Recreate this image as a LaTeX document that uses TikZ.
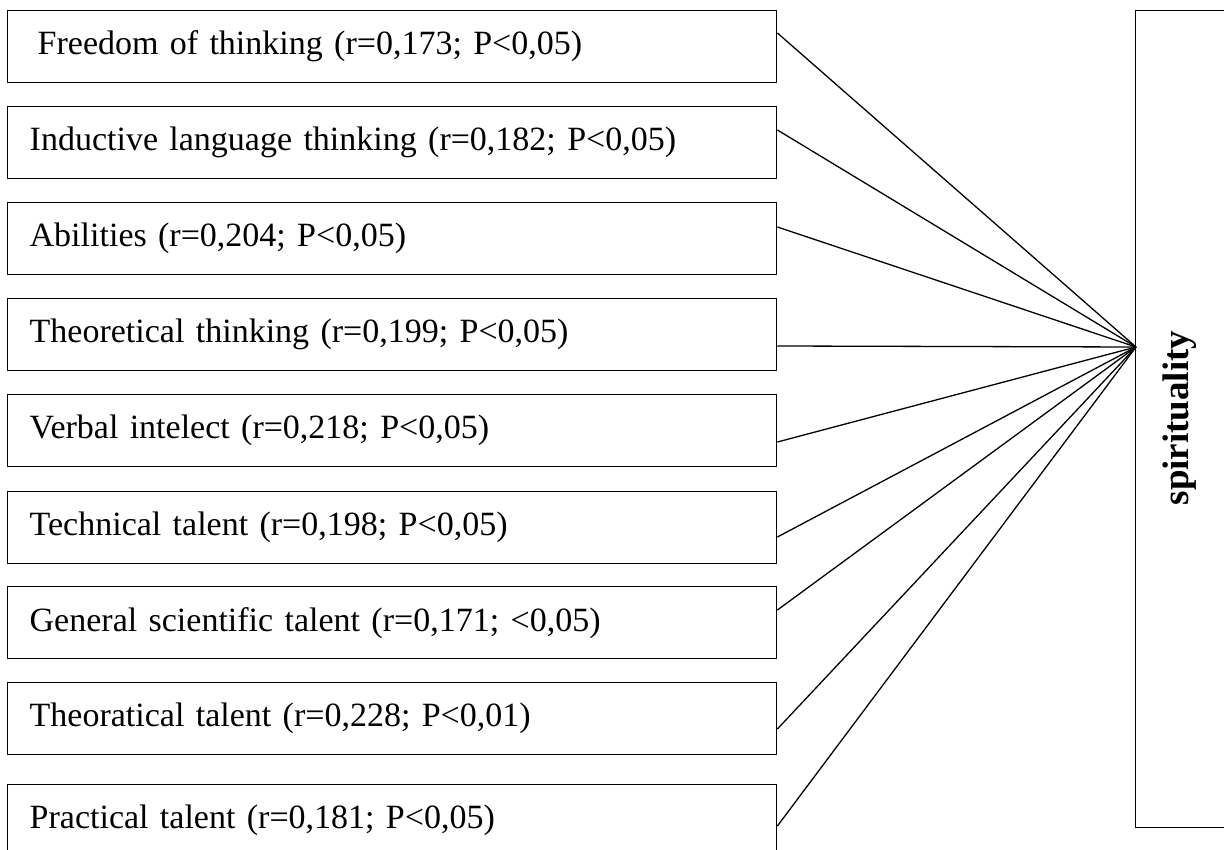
\documentclass[tikz,border=0pt]{standalone}
\usepackage{fontspec}
\setmainfont{Liberation Serif}
\begin{document}
\begin{tikzpicture}[x=1pt,y=-1pt,
  factor/.style={draw, line width=1.4pt, anchor=north west, minimum width=769pt,
    minimum height=72pt, text width=725pt, inner xsep=22pt, inner ysep=0pt,
    align=left, font=\fontsize{34}{40}\selectfont},
  link/.style={line width=1.3pt}]
\useasboundingbox (0,0) rectangle (1224,850);
\fill[white] (0,0) rectangle (1224,850);
\node[factor] (b1) at (7,10)  {\hspace*{8pt}Freedom of thinking (r=0,173; P<0,05)};
\node[factor] (b2) at (7,106) {Inductive language thinking (r=0,182; P<0,05)};
\node[factor] (b3) at (7,202) {Abilities (r=0,204; P<0,05)};
\node[factor] (b4) at (7,298) {Theoretical thinking (r=0,199; P<0,05)};
\node[factor] (b5) at (7,394) {Verbal intelect (r=0,218; P<0,05)};
\node[factor] (b6) at (7,491) {Technical talent (r=0,198; P<0,05)};
\node[factor] (b7) at (7,586) {General scientific talent (r=0,171; <0,05)};
\node[factor] (b8) at (7,682) {Theoratical talent (r=0,228; P<0,01)};
\node[factor] (b9) at (7,784) {Practical talent (r=0,181; P<0,05)};
\node[draw, line width=1.4pt, anchor=north west, minimum width=110pt, minimum height=817pt, inner sep=0pt] (sp) at (1135,10) {};
\node[rotate=90, font=\bfseries\fontsize{37}{44}\selectfont] (splabel) at (1180,418) {spirituality};
\coordinate (hub) at (1136,347);
\coordinate (s1) at ([yshift=-23pt]b1.north east);
\coordinate (s2) at ([yshift=-24pt]b2.north east);
\coordinate (s3) at ([yshift=-25pt]b3.north east);
\coordinate (s4) at ([yshift=-48pt]b4.north east);
\coordinate (s5) at ([yshift=-48pt]b5.north east);
\coordinate (s6) at ([yshift=-46pt]b6.north east);
\coordinate (s7) at ([yshift=-24pt]b7.north east);
\coordinate (s8) at ([yshift=-47pt]b8.north east);
\coordinate (s9) at ([yshift=-42pt]b9.north east);
\foreach \i in {1,...,9} { \draw[link] (s\i) -- (hub); }
\end{tikzpicture}
\end{document}
